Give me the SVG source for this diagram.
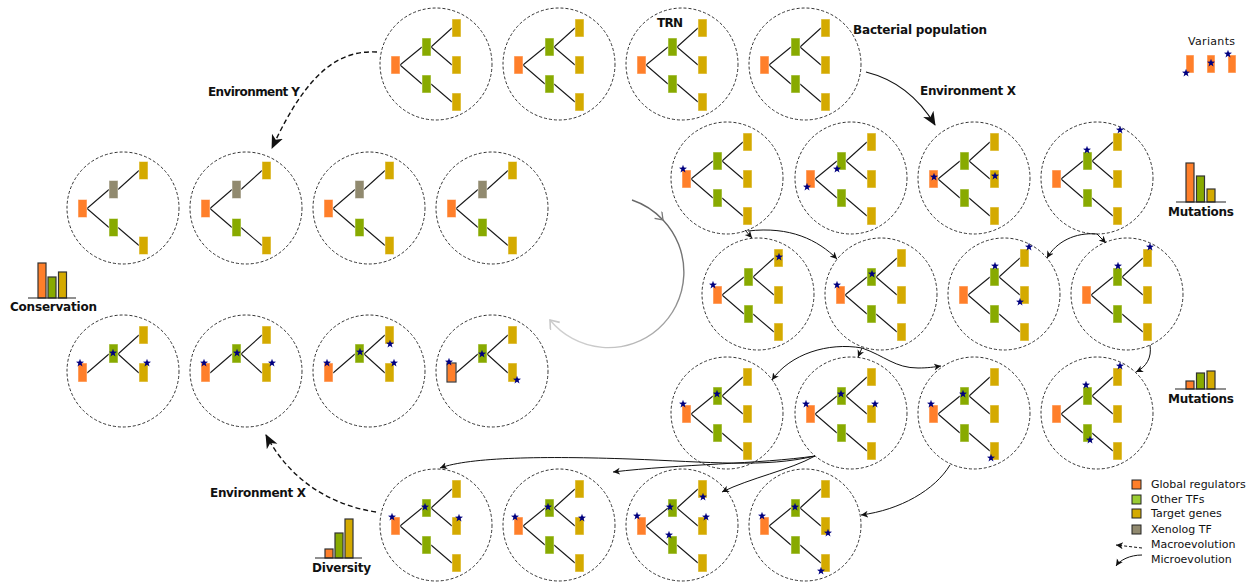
<svg xmlns="http://www.w3.org/2000/svg" xmlns:xlink="http://www.w3.org/1999/xlink" width="1256" height="584" viewBox="0 0 1256 584">
<style>
.c{fill:none;stroke:#333;stroke-width:1;stroke-dasharray:3 2}
.e{fill:none;stroke:#1a1a1a;stroke-width:1.1}
.o{fill:#ff7f2a;stroke:#fff;stroke-opacity:.5;stroke-width:1}
.g{fill:#88aa00;stroke:#fff;stroke-opacity:.5;stroke-width:1}
.y{fill:#d4aa00;stroke:#fff;stroke-opacity:.5;stroke-width:1}
.x{fill:#918a6f;stroke:#fff;stroke-opacity:.5;stroke-width:1}
.s{fill:#000080}
.bar{stroke:#333;stroke-width:1.2}
.base{stroke:#222;stroke-width:1.2}
.lbl{font-family:'DejaVu Sans','Liberation Sans',sans-serif;font-weight:bold;font-size:12px;fill:#111}
.leg{font-family:'DejaVu Sans','Liberation Sans',sans-serif;font-size:11px;fill:#111}
.micro{fill:none;stroke:#111;stroke-width:1;marker-end:url(#ah)}
.macro{fill:none;stroke:#111;stroke-width:1.4;stroke-dasharray:5 3;marker-end:url(#big)}
.macros{fill:none;stroke:#111;stroke-width:1.2;marker-end:url(#big)}
</style>
<defs>
<marker id="ah" markerUnits="userSpaceOnUse" markerWidth="10" markerHeight="10" refX="7" refY="3.5" orient="auto">
<path d="M0,0 L7,3.5 L0,7 L2,3.5z" fill="#111"/>
</marker>
<marker id="big" markerUnits="userSpaceOnUse" markerWidth="16" markerHeight="14" refX="13" refY="6" orient="auto">
<path d="M0,0 L14,6 L0,12 L4,6z" fill="#111"/>
</marker>
<marker id="gch" markerUnits="userSpaceOnUse" markerWidth="12" markerHeight="12" refX="8" refY="5" orient="auto">
<path d="M1,0 L8,5 L1,10" fill="none" stroke="#777" stroke-width="1.3"/>
</marker>
<marker id="gch2" markerUnits="userSpaceOnUse" markerWidth="14" markerHeight="14" refX="9" refY="6" orient="auto">
<path d="M1,0 L9,6 L1,12" fill="none" stroke="#c8c8c8" stroke-width="1.6"/>
</marker>
<linearGradient id="gg" gradientUnits="userSpaceOnUse" x1="640" y1="200" x2="550" y2="325">
<stop offset="0" stop-color="#666"/>
<stop offset="1" stop-color="#d0d0d0"/>
</linearGradient>
<path id="star" class="s" d="M0,-4.2 L1,-1.4 L4,-1.3 L1.6,0.5 L2.5,3.4 L0,1.7 L-2.5,3.4 L-1.6,0.5 L-4,-1.3 L-1,-1.4z"/>
<g id="t-full">
<circle r="56" class="c"/>
<path class="e" d="M-36,1 L-14,-17 M-36,1 L-14,20 M-5,-17 L16,-36 M-5,-17 L16,1 M-5,20 L16,38"/>
<rect class="o" x="-45" y="-8" width="9" height="18"/>
<rect class="g" x="-14" y="-26" width="9" height="18"/>
<rect class="g" x="-14" y="11" width="9" height="18"/>
<rect class="y" x="16" y="-45" width="9" height="18"/>
<rect class="y" x="16" y="-8" width="9" height="18"/>
<rect class="y" x="16" y="29" width="9" height="18"/>
</g>
<g id="t-xeno">
<circle r="56" class="c"/>
<path class="e" d="M-36,0.5 L-14,-18.5 M-36,0.5 L-14,19.5 M-5,-18.5 L16,-37.5 M-5,19.5 L16,37.5"/>
<rect class="o" x="-45" y="-8.5" width="9" height="18"/>
<rect class="x" x="-14" y="-27.5" width="9" height="18"/>
<rect class="g" x="-14" y="10.5" width="9" height="18"/>
<rect class="y" x="16" y="-46.5" width="9" height="18"/>
<rect class="y" x="16" y="28.5" width="9" height="18"/>
</g>
<g id="t-cons">
<circle r="56" class="c"/>
<path class="e" d="M-36,2 L-14,-17 M-5,-17 L16,-36 M-5,-17 L16,2"/>
<rect class="o" x="-45" y="-8" width="9" height="19"/>
<rect class="g" x="-14" y="-27" width="9" height="19"/>
<rect class="y" x="16" y="-45" width="9" height="18"/>
<rect class="y" x="16" y="-8" width="9" height="19"/>
</g>
</defs>
<rect width="1256" height="584" fill="#fff"/>

<!-- Top row: bacterial population -->
<g id="pop-1" transform="translate(436,64)"><use xlink:href="#t-full"/></g>
<g id="pop-2" transform="translate(559,64)"><use xlink:href="#t-full"/></g>
<g id="pop-3" transform="translate(682,64)"><use xlink:href="#t-full"/></g>
<g id="pop-4" transform="translate(805,64)"><use xlink:href="#t-full"/></g>

<!-- Row 2 -->
<g id="r2-1" transform="translate(727,178)"><use xlink:href="#t-full"/><use xlink:href="#star" x="-44" y="-9"/></g>
<g id="r2-2" transform="translate(851,178)"><use xlink:href="#t-full"/><use xlink:href="#star" x="-44" y="9"/><use xlink:href="#star" x="-14" y="-9"/></g>
<g id="r2-3" transform="translate(974,178)"><use xlink:href="#t-full"/><use xlink:href="#star" x="-40" y="-1"/><use xlink:href="#star" x="21" y="-2"/></g>
<g id="r2-4" transform="translate(1097,178)"><use xlink:href="#t-full"/><use xlink:href="#star" x="-10" y="-28"/><use xlink:href="#star" x="23" y="-48"/></g>

<!-- Row 3 -->
<g id="r3-1" transform="translate(758,294)"><use xlink:href="#t-full"/><use xlink:href="#star" x="-45" y="-9"/><use xlink:href="#star" x="21" y="-37"/></g>
<g id="r3-2" transform="translate(881,294)"><use xlink:href="#t-full"/><use xlink:href="#star" x="-44" y="-9"/><use xlink:href="#star" x="-9" y="-20"/></g>
<g id="r3-3" transform="translate(1004,294)"><use xlink:href="#t-full"/><use xlink:href="#star" x="-9" y="-28"/><use xlink:href="#star" x="25" y="-47"/><use xlink:href="#star" x="16" y="8"/></g>
<g id="r3-4" transform="translate(1127,294)"><use xlink:href="#t-full"/><use xlink:href="#star" x="-9" y="-28"/><use xlink:href="#star" x="23" y="-47"/></g>

<!-- Row 4 -->
<g id="r4-1" transform="translate(727,413)"><use xlink:href="#t-full"/><use xlink:href="#star" x="-44" y="-9"/><use xlink:href="#star" x="-10" y="-19"/></g>
<g id="r4-2" transform="translate(851,413)"><use xlink:href="#t-full"/><use xlink:href="#star" x="-45" y="-9"/><use xlink:href="#star" x="-10" y="-19"/><use xlink:href="#star" x="24" y="-9"/></g>
<g id="r4-3" transform="translate(974,413)"><use xlink:href="#t-full"/><use xlink:href="#star" x="-43" y="-9"/><use xlink:href="#star" x="-11" y="-19"/><use xlink:href="#star" x="17" y="45"/></g>
<g id="r4-4" transform="translate(1097,413)"><use xlink:href="#t-full"/><use xlink:href="#star" x="-11" y="-28"/><use xlink:href="#star" x="23" y="-47"/><use xlink:href="#star" x="-7" y="27"/></g>

<!-- Bottom row -->
<g id="r5-1" transform="translate(436,525)"><use xlink:href="#t-full"/><use xlink:href="#star" x="-44" y="-8"/><use xlink:href="#star" x="-11" y="-18"/><use xlink:href="#star" x="23" y="-7"/></g>
<g id="r5-2" transform="translate(559,525)"><use xlink:href="#t-full"/><use xlink:href="#star" x="-44" y="-8"/><use xlink:href="#star" x="-11" y="-18"/><use xlink:href="#star" x="23" y="-7"/></g>
<g id="r5-3" transform="translate(682,525)"><use xlink:href="#t-full"/><use xlink:href="#star" x="-45" y="-9"/><use xlink:href="#star" x="-12" y="-18"/><use xlink:href="#star" x="21" y="-28"/><use xlink:href="#star" x="24" y="-8"/><use xlink:href="#star" x="-13" y="10"/></g>
<g id="r5-4" transform="translate(805,525)"><use xlink:href="#t-full"/><use xlink:href="#star" x="-43" y="-9"/><use xlink:href="#star" x="-10" y="-18"/><use xlink:href="#star" x="23" y="8"/><use xlink:href="#star" x="16" y="46"/></g>

<!-- Left: xenolog row -->
<g id="xa-1" transform="translate(123,208)"><use xlink:href="#t-xeno"/></g>
<g id="xa-2" transform="translate(246,208)"><use xlink:href="#t-xeno"/></g>
<g id="xa-3" transform="translate(369,208)"><use xlink:href="#t-xeno"/></g>
<g id="xa-4" transform="translate(492,208)"><use xlink:href="#t-xeno"/></g>

<!-- Left: conservation row -->
<g id="cb-1" transform="translate(123,371)"><use xlink:href="#t-cons"/><use xlink:href="#star" x="-43" y="-8"/><use xlink:href="#star" x="-10" y="-18"/><use xlink:href="#star" x="24" y="-8"/></g>
<g id="cb-2" transform="translate(246,371)"><use xlink:href="#t-cons"/><use xlink:href="#star" x="-42" y="-8"/><use xlink:href="#star" x="-9" y="-18"/><use xlink:href="#star" x="26" y="-8"/></g>
<g id="cb-3" transform="translate(369,371)"><use xlink:href="#t-cons"/><use xlink:href="#star" x="-42" y="-8"/><use xlink:href="#star" x="-9" y="-19"/><use xlink:href="#star" x="21" y="-27"/><use xlink:href="#star" x="25" y="-8"/></g>
<g id="cb-4" transform="translate(492,371)"><use xlink:href="#t-cons"/><rect x="-45" y="-8" width="9" height="19" fill="none" stroke="#3a3a3a" stroke-width="1.2"/><use xlink:href="#star" x="-43" y="-9"/><use xlink:href="#star" x="-10" y="-17"/><use xlink:href="#star" x="25" y="9"/></g>

<!-- Connectors -->
<g id="connectors">
<path class="micro" d="M745,230 L752,238"/>
<path class="micro" d="M748,231 C790,226 818,240 837,259"/>
<path class="micro" d="M1097,234 C1075,232 1056,242 1047,258"/>
<path class="micro" d="M1097,234 L1106,243"/>
<path class="micro" d="M1150,345 C1152,358 1146,367 1136,372"/>
<path class="micro" d="M862,348 C828,342 790,354 772,380"/>
<path class="micro" d="M862,348 L858,357"/>
<path class="micro" d="M862,348 C885,356 895,368 918,368 C928,368 934,367 941,366"/>
<path class="micro" d="M815,456 C765,468 710,462 630,459 C545,456 470,457 440,468"/>
<path class="micro" d="M815,456 C760,464 680,464 613,472"/>
<path class="micro" d="M815,456 C790,470 750,478 722,492"/>
<path class="micro" d="M950,465 C935,490 900,510 861,515"/>
<path class="macros" d="M866,72 C898,80 920,100 935,125"/>
<path class="macro" d="M377,52 C340,50 308,70 272,148"/>
<path class="macro" d="M376,512 C330,505 290,480 266,435"/>
<path d="M632,200 A75.5,75.5 0 0 1 663,220" fill="none" stroke="url(#gg)" stroke-width="1.4" marker-end="url(#gch)"/>
<path d="M663,220 A75.5,75.5 0 1 1 550,320" fill="none" stroke="url(#gg)" stroke-width="1.4" marker-end="url(#gch2)"/>
</g>

<!-- Labels -->
<text class="lbl" x="657" y="27" font-size="13" textLength="26">TRN</text>
<text class="lbl" x="853" y="34" textLength="134">Bacterial population</text>
<text class="lbl" x="920" y="95" textLength="96">Environment X</text>
<text class="lbl" x="208" y="96" textLength="92">Environment Y</text>
<text class="lbl" x="210" y="497" textLength="96">Environment X</text>

<!-- Variants -->
<g id="variants">
<text class="leg" x="1188" y="45" textLength="47">Variants</text>
<rect class="o" x="1186" y="55" width="8" height="18"/>
<rect class="o" x="1207" y="55" width="8" height="18"/>
<rect class="o" x="1228" y="55" width="8" height="18"/>
<use xlink:href="#star" x="1186" y="73"/>
<use xlink:href="#star" x="1211" y="63"/>
<use xlink:href="#star" x="1228" y="54"/>
</g>

<!-- Mutations chart 1 -->
<g id="mutations-1">
<rect class="bar" x="1186" y="163" width="8" height="39" fill="#ff7f2a"/>
<rect class="bar" x="1196.5" y="176" width="8" height="26" fill="#88aa00"/>
<rect class="bar" x="1207" y="189" width="8" height="13" fill="#d4aa00"/>
<line class="base" x1="1176" y1="202" x2="1226" y2="202"/>
<text class="lbl" x="1168" y="216" textLength="66">Mutations</text>
</g>
<!-- Mutations chart 2 -->
<g id="mutations-2">
<rect class="bar" x="1186" y="381" width="8" height="8" fill="#ff7f2a"/>
<rect class="bar" x="1196.5" y="373" width="8" height="16" fill="#88aa00"/>
<rect class="bar" x="1207" y="371" width="8" height="18" fill="#d4aa00"/>
<line class="base" x1="1175" y1="389" x2="1226" y2="389"/>
<text class="lbl" x="1168" y="403" textLength="66">Mutations</text>
</g>
<!-- Conservation chart -->
<g id="conservation">
<rect class="bar" x="38" y="263" width="8" height="35" fill="#ff7f2a"/>
<rect class="bar" x="48" y="277" width="8" height="21" fill="#88aa00"/>
<rect class="bar" x="58.5" y="272" width="8" height="26" fill="#d4aa00"/>
<line class="base" x1="28" y1="298" x2="76" y2="298"/>
<text class="lbl" x="10" y="311" textLength="87">Conservation</text>
</g>
<!-- Diversity chart -->
<g id="diversity">
<rect class="bar" x="325" y="549" width="8" height="9" fill="#ff7f2a"/>
<rect class="bar" x="335" y="533" width="8" height="25" fill="#88aa00"/>
<rect class="bar" x="345" y="519" width="8" height="39" fill="#d4aa00"/>
<line class="base" x1="315" y1="558" x2="362" y2="558"/>
<text class="lbl" x="312" y="572" textLength="59">Diversity</text>
</g>

<!-- Legend -->
<g id="legend">
<rect x="1132" y="480" width="9" height="9" fill="#ff7f2a" stroke="#222"/>
<rect x="1132" y="495" width="9" height="9" fill="#9acd32" stroke="#222"/>
<rect x="1132" y="509" width="9" height="9" fill="#d4aa00" stroke="#222"/>
<rect x="1132" y="525" width="9" height="9" fill="#918a6f" stroke="#222"/>
<path d="M1142,548 L1116,545" fill="none" stroke="#111" stroke-width="1" stroke-dasharray="3 2" marker-end="url(#ah)"/>
<path d="M1142,555 C1130,555 1120,560 1116,566" fill="none" stroke="#111" stroke-width="1" marker-end="url(#ah)"/>
<text class="leg" x="1151" y="488">Global regulators</text>
<text class="leg" x="1151" y="503">Other TFs</text>
<text class="leg" x="1151" y="517">Target genes</text>
<text class="leg" x="1151" y="533">Xenolog TF</text>
<text class="leg" x="1151" y="548">Macroevolution</text>
<text class="leg" x="1151" y="563">Microevolution</text>
</g>
</svg>
